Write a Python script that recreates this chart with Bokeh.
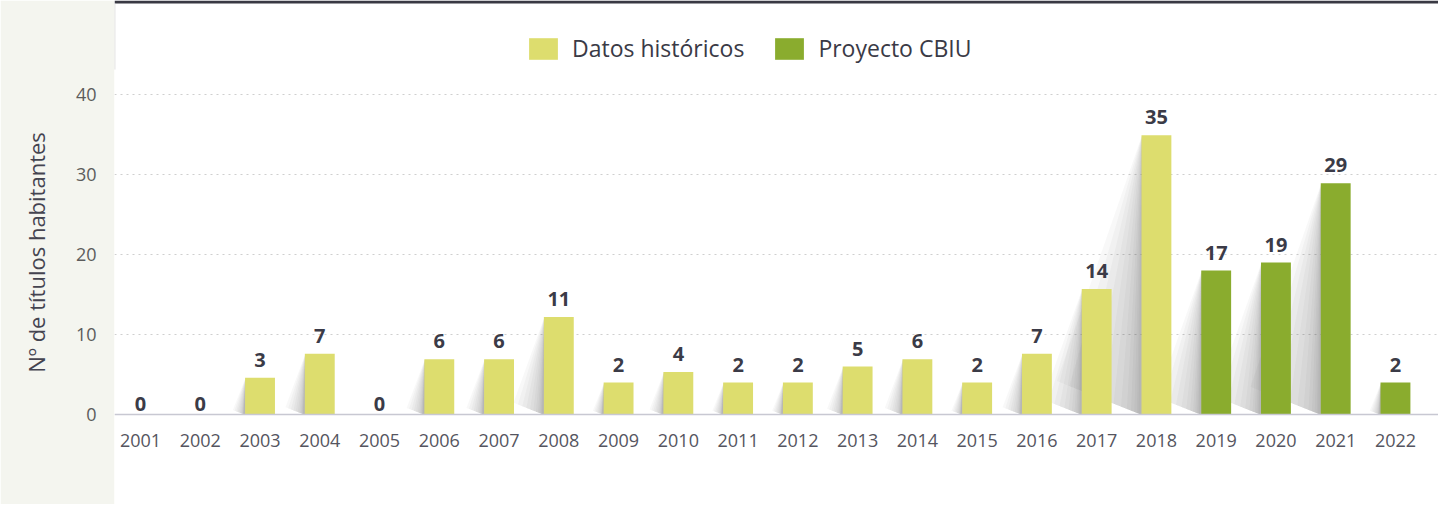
from bokeh.plotting import figure
from bokeh.models import (ColumnDataSource, FixedTicker, LinearAxis, Legend,
                          LegendItem, Range1d)
from bokeh.core.properties import value
from bokeh.embed import file_html
from bokeh.resources import INLINE

# ---------------- data ----------------
years = list(range(2001, 2023))
labels = [0, 0, 3, 7, 0, 6, 6, 11, 2, 4, 2, 2, 5, 6, 2, 7, 14, 35, 17, 19, 29, 2]
bar_heights = [0, 0, 4.6, 7.6, 0, 6.9, 6.9, 12.2, 4, 5.3, 4, 4, 6, 6.9, 4, 7.6,
               15.7, 34.9, 18, 19, 28.9, 4]
series = ["Datos históricos"] * 18 + ["Proyecto CBIU"] * 4
y_ticks = [0, 10, 20, 30, 40]

C_HIST = "#dddd6e"
C_CBIU = "#8aac2e"
C_TEXT = "#3b3b47"
FONT_NAME = "Open Sans"
FONT = value(FONT_NAME)

# ---------------- figure ----------------
x0, x1 = 2000.565, 2022.72
y0, y1 = -11.25, 51.75
p = figure(width=1438, height=504, x_range=Range1d(x0, x1), y_range=Range1d(y0, y1),
           output_backend="svg", toolbar_location=None,
           x_axis_location=None, y_axis_location=None,
           min_border_left=114, min_border_right=0, min_border_top=0, min_border_bottom=0,
           border_fill_color="#f4f5ef", background_fill_color="white",
           outline_line_color=None)

# header decorations (dark band + separator)
p.quad(left=[x0], right=[x1], bottom=[y1 - 3 / 8], top=[y1], fill_color="#393943",
       line_color=None)
p.segment(x0=[x0 + 0.005], x1=[x0 + 0.005], y0=[y1 - 69 / 8], y1=[y1 - 3 / 8],
          line_color="#d2d2d2", line_width=1)

# shadows behind bars (stacked translucent wedges -> soft gradient)
fracs = [0.02, 0.04, 0.07, 0.11, 0.16, 0.23, 0.32, 0.43, 0.56, 0.7, 0.85, 1.0]
sxs, sys_ = [], []
for f in fracs:
    for yr, h in zip(years, bar_heights):
        if h <= 0:
            continue
        xl = yr - 0.25
        w = 0.04 * h * f + 0.02
        bottom = h * 0.12 * f
        sxs.append([xl + 0.01, xl - w, xl - 0.02 * f, xl + 0.01])
        sys_.append([h, bottom, 0, 0])
p.patches(xs=sxs, ys=sys_, fill_color="#3c3c3c", fill_alpha=0.035, line_color=None)

# bars
hist_src = ColumnDataSource(dict(x=[y for y, s in zip(years, series) if s == "Datos históricos"],
                                 top=[h for h, s in zip(bar_heights, series) if s == "Datos históricos"]))
cbiu_src = ColumnDataSource(dict(x=[y for y, s in zip(years, series) if s == "Proyecto CBIU"],
                                 top=[h for h, s in zip(bar_heights, series) if s == "Proyecto CBIU"]))
r_hist = p.vbar(x="x", top="top", bottom=0, width=0.5, source=hist_src,
                fill_color=C_HIST, line_color=None)
r_cbiu = p.vbar(x="x", top="top", bottom=0, width=0.5, source=cbiu_src,
                fill_color=C_CBIU, line_color=None)

# value labels
lab_src = ColumnDataSource(dict(x=years, y=bar_heights, text=[str(v) for v in labels],
                                yoff=[-11 if h == 0 else -18 for h in bar_heights]))
p.text(x="x", y="y", text="text", y_offset="yoff", source=lab_src,
       text_align="center", text_baseline="alphabetic", text_font=FONT,
       text_font_style="bold", text_font_size="20px", text_color=C_TEXT)

# grid
p.ygrid.ticker = FixedTicker(ticks=[t for t in y_ticks if t > 0])
p.ygrid.grid_line_color = "#cfcfcf"
p.ygrid.grid_line_dash = "2 4"
p.ygrid.grid_line_width = 1
p.xgrid.visible = False

# axes
yaxis = LinearAxis(ticker=FixedTicker(ticks=y_ticks), axis_label="Nº de títulos habitantes")
yaxis.axis_line_color = None
yaxis.major_tick_line_color = None
yaxis.minor_tick_line_color = None
yaxis.major_label_standoff = 12
yaxis.major_label_text_font = FONT_NAME
yaxis.major_label_text_font_size = "18px"
yaxis.major_label_text_color = "#5c5c5c"
yaxis.axis_label_text_font = FONT_NAME
yaxis.axis_label_text_font_size = "22px"
yaxis.axis_label_text_font_style = "normal"
yaxis.axis_label_text_color = "#444450"
yaxis.axis_label_standoff = 22
p.add_layout(yaxis, "left")

xaxis = LinearAxis(ticker=FixedTicker(ticks=years), fixed_location=0,
                   major_label_overrides={y: str(y) for y in years})
xaxis.axis_line_color = "#c8c8d2"
xaxis.axis_line_width = 1.5
xaxis.major_tick_line_color = None
xaxis.minor_tick_line_color = None
xaxis.major_label_standoff = 13
xaxis.major_label_text_font = FONT_NAME
xaxis.major_label_text_font_size = "18px"
xaxis.major_label_text_color = "#555560"
p.add_layout(xaxis, "below")

# legend
legend = Legend(items=[LegendItem(label="Datos históricos", renderers=[r_hist]),
                       LegendItem(label="Proyecto CBIU", renderers=[r_cbiu])],
                orientation="horizontal", location=(411, 440),
                glyph_width=36, glyph_height=27, label_standoff=11, spacing=27,
                label_text_font=FONT_NAME, label_text_font_size="23px",
                label_text_color="#3a3a46", border_line_color=None,
                background_fill_alpha=0, margin=0, padding=5)
p.add_layout(legend)

open("out.html", "w").write(file_html(p, INLINE))
